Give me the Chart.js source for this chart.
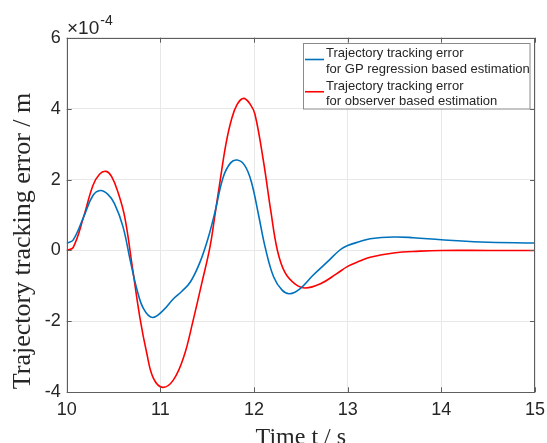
<!DOCTYPE html>
<html>
<head>
<meta charset="utf-8">
<script src="https://cdn.jsdelivr.net/npm/chart.js@4"></script>
<style>
html,body{margin:0;padding:0;background:#fff;}
#wrap{width:547px;height:443px;position:relative;}
</style>
</head>
<body>
<div id="wrap"><canvas id="c" width="547" height="443"></canvas></div>
<script>
// Time axis ticks (s) and value ticks (×10^-4 m)
const xTicks = [10, 11, 12, 13, 14, 15];
const yTicks = [-4, -2, 0, 2, 4, 6];

// GP regression based estimation (values in 10^-4 m)
const blueT = [10.00, 10.07, 10.18, 10.28, 10.36, 10.44, 10.51, 10.60, 10.68, 10.75, 10.82, 10.915, 11.03, 11.14, 11.23, 11.32, 11.42, 11.51, 11.58, 11.67, 11.75, 11.82, 11.90, 11.97, 12.05, 12.12, 12.21, 12.30, 12.38, 12.49, 12.63, 12.78, 12.92, 13.00, 13.13, 13.24, 13.49, 13.70, 14.00, 14.42, 15.00];
const blueV = [0.20, 0.30, 0.94, 1.55, 1.69, 1.58, 1.32, 0.68, -0.30, -1.10, -1.64, -1.89, -1.69, -1.36, -1.15, -0.89, -0.35, 0.35, 1.05, 2.06, 2.47, 2.55, 2.40, 1.95, 0.98, 0.08, -0.75, -1.12, -1.22, -1.08, -0.70, -0.33, 0.02, 0.14, 0.25, 0.33, 0.38, 0.36, 0.30, 0.24, 0.21];

// Observer based estimation (values in 10^-4 m)
const redT = [10.00, 10.07, 10.18, 10.28, 10.35, 10.42, 10.48, 10.55, 10.62, 10.70, 10.78, 10.855, 10.925, 11.025, 11.14, 11.25, 11.35, 11.44, 11.53, 11.58, 11.64, 11.70, 11.76, 11.82, 11.89, 11.96, 12.01, 12.10, 12.18, 12.25, 12.33, 12.44, 12.55, 12.71, 12.88, 13.00, 13.13, 13.24, 13.49, 13.77, 14.00, 14.50, 15.00];
const redV = [0.00, 0.09, 0.94, 1.83, 2.15, 2.23, 2.08, 1.62, 0.94, -0.45, -1.87, -2.90, -3.60, -3.86, -3.65, -3.00, -1.97, -0.95, 0.10, 0.95, 2.00, 3.00, 3.70, 4.12, 4.29, 4.12, 3.84, 2.53, 1.10, 0.00, -0.62, -0.95, -1.06, -0.94, -0.66, -0.45, -0.30, -0.19, -0.07, -0.02, 0.00, 0.00, 0.00];

const seriesLabels = [
  ["Trajectory tracking error", "for GP regression based estimation"],
  ["Trajectory tracking error", "for observer based estimation"]
];
const seriesColors = ["#0072BD", "#FF0000"];
const xTitle = "Time t / s";
const yTitle = "Trajectory tracking error / m";

const AXIS = "#5e5e5e";
const TXT = "#262626";

const decor = {
  id: "decor",
  afterDatasetsDraw(chart) {
    const ctx = chart.ctx, a = chart.chartArea;
    const xs = chart.scales.x, ys = chart.scales.y;
    ctx.save();
    // box
    ctx.strokeStyle = AXIS; ctx.lineWidth = 1;
    ctx.strokeRect(Math.round(a.left) + 0.5, Math.round(a.top) + 0.5, Math.round(a.right - a.left) - 1, Math.round(a.bottom - a.top) - 1);
    // inward ticks
    const L = 5;
    ctx.beginPath();
    xTicks.forEach(v => {
      const px = Math.round(xs.getPixelForValue(v)) + 0.5;
      ctx.moveTo(px, a.bottom); ctx.lineTo(px, a.bottom - L);
      ctx.moveTo(px, a.top); ctx.lineTo(px, a.top + L);
    });
    yTicks.forEach(v => {
      const py = Math.round(ys.getPixelForValue(v)) + 0.5;
      ctx.moveTo(a.left, py); ctx.lineTo(a.left + L, py);
      ctx.moveTo(a.right, py); ctx.lineTo(a.right - L, py);
    });
    ctx.stroke();

    // exponent label
    ctx.fillStyle = TXT;
    ctx.textBaseline = "alphabetic"; ctx.textAlign = "left";
    ctx.font = "19px 'Liberation Sans', Arial, sans-serif";
    ctx.fillText("\u00D710", 67, 33.5);
    const w = ctx.measureText("\u00D710").width;
    ctx.font = "14px 'Liberation Sans', Arial, sans-serif";
    ctx.fillText("-4", 67 + w + 1, 24.5);

    // axis titles
    ctx.font = "24px 'Liberation Serif', 'Times New Roman', serif";
    ctx.textAlign = "center";
    ctx.fillText(xTitle, (a.left + a.right) / 2, 443.5);
    ctx.save();
    ctx.translate(30, 241);
    ctx.rotate(-Math.PI / 2);
    ctx.font = "26px 'Liberation Serif', 'Times New Roman', serif";
    ctx.fillText(yTitle, 0, 0);
    ctx.restore();

    // legend
    const bx = 303.5, by = 43.5, bw = 226.5, bh = 65.5;
    ctx.fillStyle = "#fff";
    ctx.fillRect(bx, by, bw, bh);
    ctx.strokeStyle = "#8a8a8a"; ctx.lineWidth = 1;
    ctx.strokeRect(bx, by, bw, bh);
    ctx.font = "13px 'Liberation Sans', Arial, sans-serif";
    ctx.textAlign = "left"; ctx.textBaseline = "middle";
    const lineY = [53.5, 69.5, 86, 101.5];
    seriesLabels.forEach((lab, i) => {
      ctx.fillStyle = TXT;
      ctx.fillText(lab[0], 326, lineY[i * 2]);
      ctx.fillText(lab[1], 326, lineY[i * 2 + 1]);
      ctx.strokeStyle = seriesColors[i]; ctx.lineWidth = 1.6;
      ctx.beginPath();
      const ly = (lineY[i * 2] + lineY[i * 2 + 1]) / 2 - 2;
      ctx.moveTo(305, ly); ctx.lineTo(324, ly);
      ctx.stroke();
    });
    ctx.restore();
  }
};

new Chart(document.getElementById("c"), {
  type: "line",
  data: {
    datasets: [
      {
        label: seriesLabels[0].join(" "),
        data: blueT.map((t, i) => ({ x: t, y: blueV[i] })),
        borderColor: seriesColors[0], borderWidth: 1.6,
        pointRadius: 0, fill: false, tension: 0.4
      },
      {
        label: seriesLabels[1].join(" "),
        data: redT.map((t, i) => ({ x: t, y: redV[i] })),
        borderColor: seriesColors[1], borderWidth: 1.6,
        pointRadius: 0, fill: false, tension: 0.4
      }
    ]
  },
  options: {
    responsive: false,
    animation: false,
    devicePixelRatio: 1,
    layout: { padding: { top: 37.7, right: 12, left: 0, bottom: 0 } },
    plugins: { legend: { display: false }, tooltip: { enabled: false } },
    scales: {
      x: {
        type: "linear", min: 10, max: 15,
        afterBuildTicks: s => { s.ticks = xTicks.map(v => ({ value: v })); },
        afterFit: s => { s.height = 50.7; s.paddingLeft = 0; s.paddingRight = 0; },
        ticks: { color: TXT, padding: 7, font: { family: "'Liberation Sans', Arial, sans-serif", size: 18 } },
        grid: { color: "#e8e8e8", drawTicks: false },
        border: { display: false }
      },
      y: {
        type: "linear", min: -4, max: 6,
        afterBuildTicks: s => { s.ticks = yTicks.map(v => ({ value: v })); },
        afterFit: s => { s.width = 66.7; s.paddingTop = 0; s.paddingBottom = 0; },
        ticks: { color: TXT, padding: 6, font: { family: "'Liberation Sans', Arial, sans-serif", size: 18 } },
        grid: { color: "#e8e8e8", drawTicks: false },
        border: { display: false }
      }
    }
  },
  plugins: [decor]
});
</script>
</body>
</html>
